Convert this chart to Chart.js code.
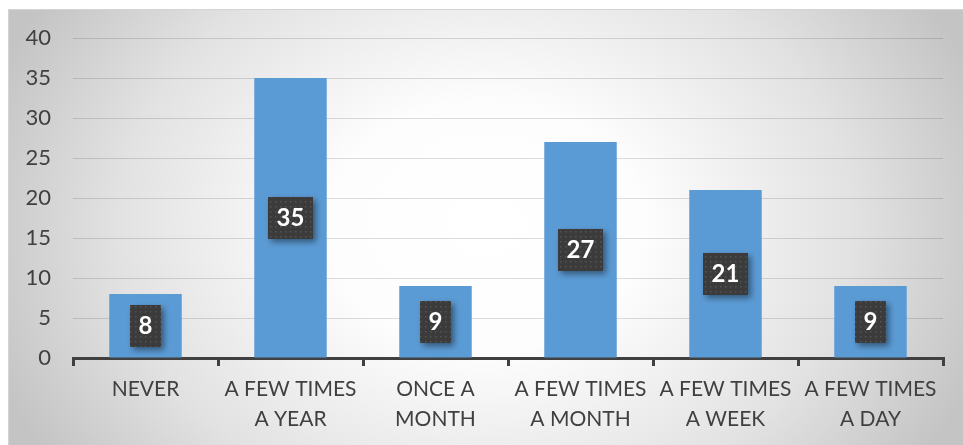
<!DOCTYPE html>
<html>
<head>
<meta charset="utf-8">
<script src="https://cdn.jsdelivr.net/npm/chart.js@4.4.0/dist/chart.umd.min.js"></script>
<style>
  html, body { margin: 0; padding: 0; background: #fff; }
  #wrap { position: absolute; left: 8px; top: 9px; width: 955px; height: 436px; }
</style>
</head>
<body>
<div id="wrap"><canvas id="freq"></canvas></div>
<script>
'use strict';

// Survey answers: how often
const categories = [
  ['NEVER'],
  ['A FEW TIMES', 'A YEAR'],
  ['ONCE A', 'MONTH'],
  ['A FEW TIMES', 'A MONTH'],
  ['A FEW TIMES', 'A WEEK'],
  ['A FEW TIMES', 'A DAY'],
];
const counts = [8, 35, 9, 27, 21, 9];
const yTicks = [0, 5, 10, 15, 20, 25, 30, 35, 40];

const FONT = 'Lato, "Open Sans", sans-serif';
const TEXT = '#404040';

// Soft grey frame with a lighter middle
const backdrop = {
  id: 'backdrop',
  beforeDraw(chart) {
    const { ctx, width, height } = chart;
    const cx = width / 2, cy = height / 2;
    const rx = width * 0.55, ry = height * 0.95;
    ctx.save();
    ctx.translate(cx, cy);
    ctx.scale(rx / ry, 1);
    const g = ctx.createRadialGradient(0, 0, 0, 0, 0, ry);
    g.addColorStop(0, '#ffffff');
    g.addColorStop(0.3, '#fdfdfd');
    g.addColorStop(0.7, '#e2e2e2');
    g.addColorStop(1, '#c4c4c4');
    ctx.fillStyle = g;
    ctx.fillRect(-cx * ry / rx, -cy, width * ry / rx, height);
    ctx.restore();
    ctx.save();
    ctx.strokeStyle = '#d4d4d4';
    ctx.lineWidth = 1;
    ctx.strokeRect(0.5, 0.5, width, height);
    ctx.restore();
  },
};

// dotted dark fill for the value boxes
function dotPattern(ctx) {
  const p = document.createElement('canvas');
  p.width = 5; p.height = 5;
  const c = p.getContext('2d');
  c.fillStyle = '#3b3b3b';
  c.fillRect(0, 0, 5, 5);
  c.fillStyle = '#545454';
  c.fillRect(2, 2, 1.5, 1.5);
  return ctx.createPattern(p, 'repeat');
}

// value boxes centred in each bar
const valueBoxes = {
  id: 'valueBoxes',
  afterDatasetsDraw(chart) {
    const { ctx } = chart;
    const meta = chart.getDatasetMeta(0);
    const fill = dotPattern(ctx);
    ctx.save();
    ctx.font = 'bold 24px ' + FONT;
    ctx.textAlign = 'center';
    ctx.textBaseline = 'middle';
    meta.data.forEach((bar, i) => {
      const txt = String(counts[i]);
      const w = ctx.measureText(txt).width + 17;
      const h = 42;
      const x = bar.x;
      const y = (bar.y + bar.base) / 2;
      ctx.save();
      ctx.shadowColor = 'rgba(0,0,0,0.45)';
      ctx.shadowBlur = 6;
      ctx.shadowOffsetX = 3;
      ctx.shadowOffsetY = 3;
      ctx.fillStyle = fill;
      ctx.fillRect(Math.round(x - w / 2), Math.round(y - h / 2), Math.round(w), h);
      ctx.restore();
      ctx.fillStyle = '#ffffff';
      ctx.fillText(txt, x, y + 1);
    });
    ctx.restore();
  },
};

new Chart(document.getElementById('freq'), {
  type: 'bar',
  data: {
    labels: categories,
    datasets: [{
      data: counts,
      backgroundColor: '#5b9bd5',
      categoryPercentage: 1,
      barPercentage: 0.5,
    }],
  },
  options: {
    responsive: true,
    maintainAspectRatio: false,
    animation: false,
    layout: { padding: { left: 0, right: 20, top: 0, bottom: 0 } },
    plugins: { legend: { display: false }, tooltip: { enabled: false } },
    scales: {
      x: {
        offset: true,
        grid: {
          offset: true,
          drawOnChartArea: false,
          color: '#404040',
          lineWidth: 3,
          tickLength: 8,
        },
        border: { display: true, color: '#404040', width: 3 },
        ticks: {
          color: TEXT,
          font: { family: FONT, size: 21, lineHeight: 1.43 },
          padding: 8,
          maxRotation: 0,
          autoSkip: false,
        },
        afterFit: s => { s.height = 87; },
      },
      y: {
        min: 0,
        max: 40,
        afterBuildTicks: s => { s.ticks = yTicks.map(v => ({ value: v })); },
        grid: { color: 'rgba(0,0,0,0.13)', lineWidth: 1, drawTicks: false },
        border: { display: false },
        ticks: {
          color: TEXT,
          font: { family: FONT, size: 22 },
          padding: 22,
        },
        afterFit: s => { s.width = 65; s.paddingTop = 29; },
      },
    },
  },
  plugins: [backdrop, valueBoxes],
});
</script>
</body>
</html>
